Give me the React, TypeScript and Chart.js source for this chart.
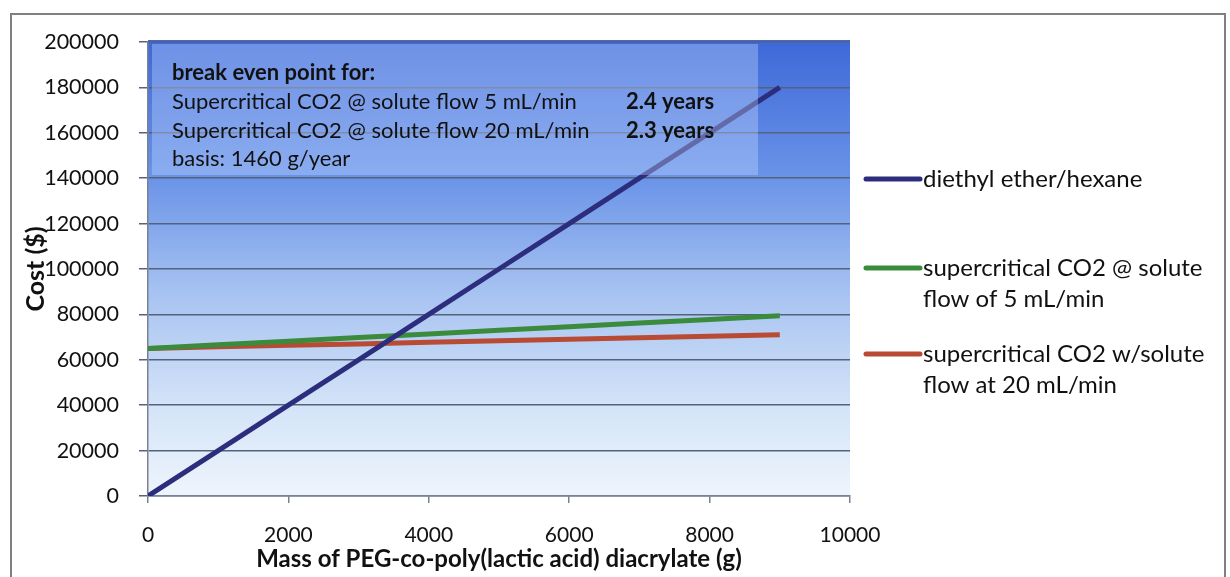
import React, { useEffect, useRef } from "react";
import { Chart, registerables } from "chart.js";

Chart.register(...registerables);

const massValues = [0, 1000, 2000, 3000, 4000, 5000, 6000, 7000, 8000, 9000];
const diethylCost = [0, 20000, 40000, 60000, 80000, 100000, 120000, 140000, 160000, 180000];
const co2Flow5Cost = [65000, 66600, 68200, 69800, 71400, 73000, 74600, 76200, 77800, 79400];
const co2Flow20Cost = [65000, 65700, 66400, 67000, 67700, 68400, 69000, 69700, 70400, 71000];

const seriesLabels = [
  ["diethyl ether/hexane"],
  ["supercritical CO2 @ solute", "flow of 5 mL/min"],
  ["supercritical CO2 w/solute", "flow at 20 mL/min"],
];
const seriesColors = ["#2c2d7c", "#3a8b3c", "#b94a33"];

const noteTitle = "break even point for:";
const noteLines = [
  "Supercritical CO2 @ solute flow 5 mL/min",
  "Supercritical CO2 @ solute flow 20 mL/min",
  "basis: 1460 g/year",
];
const noteValues = ["2.4 years", "2.3 years", ""];

const FONT = "Lato, 'Open Sans', sans-serif";

const bgPlugin = {
  id: "plotBg",
  beforeDraw(chart: any) {
    const { ctx, chartArea } = chart;
    const { left, top, right, bottom } = chartArea;
    const g = ctx.createLinearGradient(0, top - 2, 0, bottom);
    g.addColorStop(0, "#3e68d8");
    g.addColorStop(0.3, "#6a93e8");
    g.addColorStop(0.55, "#a6c2f1");
    g.addColorStop(0.8, "#d3e3f8");
    g.addColorStop(1, "#eef5fc");
    ctx.save();
    ctx.fillStyle = g;
    ctx.fillRect(left, top - 2, right - left, bottom - top + 2);
    ctx.restore();
  },
};

const notePlugin = {
  id: "noteBox",
  afterDatasetsDraw(chart: any) {
    const { ctx, chartArea } = chart;
    const x0 = chartArea.left + 4;
    const y0 = chartArea.top + 2;
    ctx.save();
    ctx.fillStyle = "rgba(200,220,255,0.35)";
    ctx.fillRect(x0, y0, 606, 131);
    ctx.fillStyle = "#111";
    ctx.textBaseline = "middle";
    ctx.textAlign = "left";
    ctx.font = `bold 22px ${FONT}`;
    ctx.fillText(noteTitle, x0 + 20, y0 + 29);
    ctx.font = `22px ${FONT}`;
    noteLines.forEach((t, i) => {
      ctx.fillText(t, x0 + 20, y0 + 58 + i * 28.5);
    });
    ctx.font = `bold 22px ${FONT}`;
    noteValues.forEach((t, i) => {
      if (t) ctx.fillText(t, x0 + 474, y0 + 58 + i * 28.5);
    });
    ctx.restore();
  },
};

const legendPlugin = {
  id: "sideLegend",
  afterDraw(chart: any) {
    const { ctx } = chart;
    const ys = [179, 268, 354];
    ctx.save();
    ctx.font = `24px ${FONT}`;
    ctx.textBaseline = "middle";
    ctx.textAlign = "left";
    seriesLabels.forEach((lines, i) => {
      ctx.strokeStyle = seriesColors[i];
      ctx.lineWidth = 5;
      ctx.lineCap = "round";
      ctx.beginPath();
      ctx.moveTo(866, ys[i]);
      ctx.lineTo(920, ys[i]);
      ctx.stroke();
      ctx.fillStyle = "#111";
      lines.forEach((t, j) => {
        ctx.fillText(t, 923, ys[i] + j * 31);
      });
    });
    ctx.restore();
  },
};

export default function App() {
  const ref = useRef<HTMLCanvasElement | null>(null);
  useEffect(() => {
    if (!ref.current) return;
    const mk = (vals: number[]) => massValues.map((x, i) => ({ x, y: vals[i] }));
    const chart = new Chart(ref.current, {
      type: "line",
      data: {
        datasets: [
          { label: seriesLabels[0].join(" "), data: mk(diethylCost), borderColor: seriesColors[0], borderWidth: 5, pointRadius: 0, fill: false, tension: 0 },
          { label: seriesLabels[1].join(" "), data: mk(co2Flow5Cost), borderColor: seriesColors[1], borderWidth: 5, pointRadius: 0, fill: false, tension: 0 },
          { label: seriesLabels[2].join(" "), data: mk(co2Flow20Cost), borderColor: seriesColors[2], borderWidth: 5, pointRadius: 0, fill: false, tension: 0 },
        ],
      },
      options: {
        responsive: false,
        animation: false,
        layout: { padding: { left: 0, top: 42, right: 380, bottom: 0 } },
        plugins: { legend: { display: false }, tooltip: { enabled: false } },
        scales: {
          x: {
            type: "linear",
            min: 0,
            max: 10000,
            ticks: { stepSize: 2000, color: "#111", padding: 20, font: { family: FONT, size: 21 }, maxRotation: 0, callback: (v: any) => String(v) },
            grid: { drawOnChartArea: false, drawTicks: true, tickLength: 7, color: "#7a8190", lineWidth: 1.5 },
            border: { color: "#7a8190", width: 1.5 },
            title: { display: true, text: "Mass of PEG-co-poly(lactic acid) diacrylate (g)", color: "#111", font: { family: FONT, size: 24, weight: "bold" }, padding: { top: 0, bottom: 3 } },
            afterFit(scale: any) { scale.height = 81; },
          },
          y: {
            type: "linear",
            min: 0,
            max: 200000,
            ticks: { stepSize: 20000, color: "#111", padding: 20, font: { family: FONT, size: 21.5 }, callback: (v: any) => String(v) },
            grid: { color: "#56627c", lineWidth: 1.5, tickLength: 9 },
            border: { color: "#7a8190", width: 1.5 },
            title: { display: true, text: "Cost ($)", color: "#111", font: { family: FONT, size: 25, weight: "bold" }, padding: { top: 21, bottom: 0 } },
            afterFit(scale: any) { scale.width = 148; },
          },
        },
      },
      plugins: [bgPlugin, notePlugin, legendPlugin],
    } as any);
    return () => chart.destroy();
  }, []);

  return (
    <div style={{ position: "absolute", left: 0, top: 0, width: 1230, height: 577, background: "#fff", overflow: "hidden" }}>
      <div style={{ position: "absolute", left: 10, top: 13, width: 1216, height: 600, border: "2px solid #808080", boxSizing: "border-box" }} />
      <canvas ref={ref} width={1230} height={577} style={{ position: "absolute", left: 0, top: 0 }} />
    </div>
  );
}
